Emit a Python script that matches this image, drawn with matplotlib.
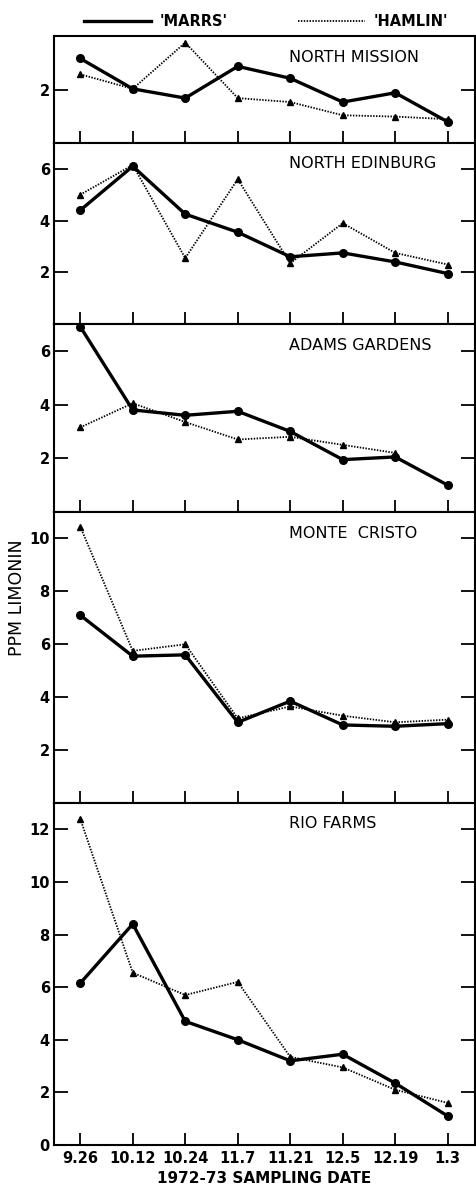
import numpy as np
import matplotlib
matplotlib.use('Agg')
import matplotlib.pyplot as plt
from matplotlib.lines import Line2D

dates = ['9.26', '10.12', '10.24', '11.7', '11.21', '12.5', '12.19', '1.3']

groves = ['NORTH MISSION', 'NORTH EDINBURG', 'ADAMS GARDENS', 'MONTE  CRISTO', 'RIO FARMS']

marrs_mission = [3.2, 2.05, 1.7, 2.9, 2.45, 1.55, 1.9, 0.8]
hamlin_mission = [2.6, 2.05, 3.8, 1.7, 1.55, 1.05, 1.0, 0.9]

marrs_edinburg = [4.4, 6.1, 4.25, 3.55, 2.6, 2.75, 2.4, 1.95]
hamlin_edinburg = [5.0, 6.15, 2.55, 5.6, 2.35, 3.9, 2.75, 2.3]

marrs_adams = [6.9, 3.8, 3.6, 3.75, 3.0, 1.95, 2.05, 1.0]
hamlin_adams = [3.15, 4.05, 3.35, 2.7, 2.8, 2.5, 2.2, np.nan]

marrs_monte = [7.1, 5.55, 5.6, 3.05, 3.85, 2.95, 2.9, 3.0]
hamlin_monte = [10.45, 5.75, 6.0, 3.2, 3.65, 3.3, 3.05, 3.15]

marrs_rio = [6.15, 8.4, 4.7, 4.0, 3.2, 3.45, 2.35, 1.1]
hamlin_rio = [12.4, 6.55, 5.7, 6.2, 3.35, 2.95, 2.1, 1.6]

marrs = [marrs_mission, marrs_edinburg, marrs_adams, marrs_monte, marrs_rio]
hamlin = [hamlin_mission, hamlin_edinburg, hamlin_adams, hamlin_monte, hamlin_rio]

ytops = [4.05, 7, 7, 11, 13]
yticks = [[2], [2, 4, 6], [2, 4, 6], [2, 4, 6, 8, 10], [0, 2, 4, 6, 8, 10, 12]]

# panel edges in pixels (top, bottom)
W, H = 476, 1188
edges = [(36, 143), (143, 324), (324, 512), (512, 803), (803, 1145)]

fig = plt.figure(figsize=(W / 100, H / 100), dpi=100)
x = np.arange(len(dates))

axes = []
for i, (top, bot) in enumerate(edges):
    ax = fig.add_axes([54 / W, 1 - bot / H, (475 - 54) / W, (bot - top) / H])
    ax.plot(x, hamlin[i], color='black', lw=1.3, ls=(0, (0.8, 0.8)),
            marker='^', ms=3.8, zorder=2)
    ax.plot(x, marrs[i], color='black', lw=2.4, marker='o', ms=5.5, zorder=3)
    ax.set_xlim(-0.5, 7.52)
    ax.set_ylim(0, ytops[i])
    ax.set_xticks(x)
    ax.set_yticks(yticks[i])
    ax.tick_params(axis='x', direction='in', length=9, width=1.3, pad=4)
    ax.tick_params(axis='y', direction='in', length=10, width=1.3, right=True,
                   pad=3, labelsize=10.5)
    for lab in ax.get_yticklabels():
        lab.set_fontweight('bold')
    for s in ax.spines.values():
        s.set_linewidth(1.5)
    ax.annotate(groves[i], xy=(3.98, 1), xycoords=('data', 'axes fraction'),
                xytext=(0, -21), textcoords='offset pixels',
                ha='left', va='center', fontsize=11.5)
    if i < len(edges) - 1:
        ax.set_xticklabels([])
    else:
        ax.set_xticklabels(dates, fontsize=10.5, fontweight='bold')
        ax.set_xlabel('1972-73 SAMPLING DATE', fontsize=11, fontweight='bold',
                      labelpad=4)
    axes.append(ax)

fig.text(17 / W, 1 - 598 / H, 'PPM LIMONIN', rotation=90, ha='center',
         va='center', fontsize=12.5)

handles = [Line2D([], [], color='black', lw=2.4),
           Line2D([], [], color='black', lw=1.3, ls=(0, (0.8, 0.8)))]
fig.legend(handles, ["'MARRS'", "'HAMLIN'"], loc='center',
           bbox_to_anchor=(266 / W, 1 - 22 / H), ncol=2, frameon=False,
           handlelength=4.6, columnspacing=4.8, handletextpad=0.6,
           prop={'weight': 'bold', 'size': 10.5})

fig.savefig('out.png', dpi=100)
